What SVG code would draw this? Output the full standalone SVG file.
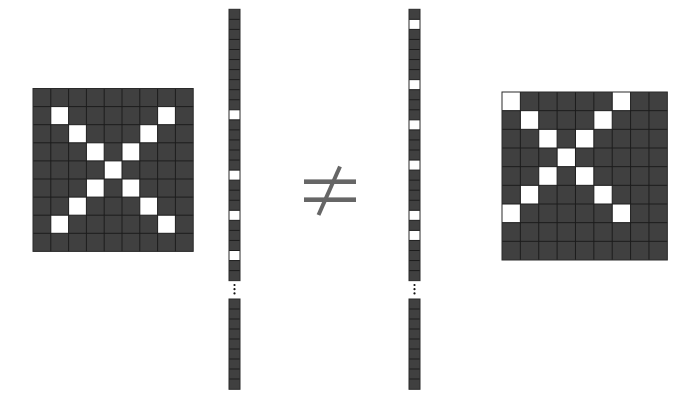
<svg xmlns="http://www.w3.org/2000/svg" width="700" height="400" viewBox="0 0 700 400">
<style>
.bg{fill:#404040}
.w{fill:#ffffff}
.ln{fill:none;stroke:#1c1c1c;stroke-width:1}
.bd{fill:none;stroke:#2a2a2a;stroke-width:1}
.dot{fill:#111}
.ne{fill:#666}
</style>
<rect width="700" height="400" fill="#ffffff"/>
<g id="left-grid">
<rect class="bg" x="33" y="88.5" width="160.2" height="162.9"/>
<g class="w">
<rect x="50.8" y="106.6" width="17.8" height="18.1"/>
<rect x="157.6" y="106.6" width="17.8" height="18.1"/>
<rect x="68.6" y="124.7" width="17.8" height="18.1"/>
<rect x="139.8" y="124.7" width="17.8" height="18.1"/>
<rect x="86.4" y="142.8" width="17.8" height="18.1"/>
<rect x="122" y="142.8" width="17.8" height="18.1"/>
<rect x="104.2" y="160.9" width="17.8" height="18.1"/>
<rect x="86.4" y="179" width="17.8" height="18.1"/>
<rect x="122" y="179" width="17.8" height="18.1"/>
<rect x="68.6" y="197.1" width="17.8" height="18.1"/>
<rect x="139.8" y="197.1" width="17.8" height="18.1"/>
<rect x="50.8" y="215.2" width="17.8" height="18.1"/>
<rect x="157.6" y="215.2" width="17.8" height="18.1"/>
</g>
<path class="ln" d="M50.8 88.5V251.4M68.6 88.5V251.4M86.4 88.5V251.4M104.2 88.5V251.4M122 88.5V251.4M139.8 88.5V251.4M157.6 88.5V251.4M175.4 88.5V251.4M33 106.6H193.2M33 124.7H193.2M33 142.8H193.2M33 160.9H193.2M33 179H193.2M33 197.1H193.2M33 215.2H193.2M33 233.3H193.2"/>
<rect class="bd" x="33" y="88.5" width="160.2" height="162.9"/>
</g>
<g id="left-column">
<rect class="bg" x="229" y="9.3" width="11" height="271.35"/>
<g class="w">
<rect x="229" y="109.8" width="11" height="10.05"/>
<rect x="229" y="170.1" width="11" height="10.05"/>
<rect x="229" y="210.3" width="11" height="10.05"/>
<rect x="229" y="250.5" width="11" height="10.05"/>
</g>
<path class="ln" d="M229 19.35H240M229 29.4H240M229 39.45H240M229 49.5H240M229 59.55H240M229 69.6H240M229 79.65H240M229 89.7H240M229 99.75H240M229 109.8H240M229 119.85H240M229 129.9H240M229 139.95H240M229 150H240M229 160.05H240M229 170.1H240M229 180.15H240M229 190.2H240M229 200.25H240M229 210.3H240M229 220.35H240M229 230.4H240M229 240.45H240M229 250.5H240M229 260.55H240M229 270.6H240"/>
<rect class="bd" x="229" y="9.3" width="11" height="271.35"/>
<circle class="dot" cx="234.5" cy="285" r="1.1"/>
<circle class="dot" cx="234.5" cy="289.2" r="1.1"/>
<circle class="dot" cx="234.5" cy="293.4" r="1.1"/>
<rect class="bg" x="229" y="299" width="11" height="90.3"/>
<path class="ln" d="M229 309H240M229 319H240M229 329H240M229 339H240M229 349H240M229 359H240M229 369H240M229 379H240"/>
<rect class="bd" x="229" y="299" width="11" height="90.3"/>
</g>
<g id="not-equal">
<rect class="ne" x="304" y="179.4" width="52" height="4.6"/>
<rect class="ne" x="304" y="197.4" width="52" height="4.6"/>
<line x1="318.5" y1="215" x2="340" y2="166.5" stroke="#666" stroke-width="4"/>
</g>
<g id="right-column">
<rect class="bg" x="409" y="9.3" width="11" height="271.35"/>
<g class="w">
<rect x="409" y="19.35" width="11" height="10.05"/>
<rect x="409" y="79.65" width="11" height="10.05"/>
<rect x="409" y="119.85" width="11" height="10.05"/>
<rect x="409" y="160.05" width="11" height="10.05"/>
<rect x="409" y="210.3" width="11" height="10.05"/>
<rect x="409" y="230.4" width="11" height="10.05"/>
</g>
<path class="ln" d="M409 19.35H420M409 29.4H420M409 39.45H420M409 49.5H420M409 59.55H420M409 69.6H420M409 79.65H420M409 89.7H420M409 99.75H420M409 109.8H420M409 119.85H420M409 129.9H420M409 139.95H420M409 150H420M409 160.05H420M409 170.1H420M409 180.15H420M409 190.2H420M409 200.25H420M409 210.3H420M409 220.35H420M409 230.4H420M409 240.45H420M409 250.5H420M409 260.55H420M409 270.6H420"/>
<rect class="bd" x="409" y="9.3" width="11" height="271.35"/>
<circle class="dot" cx="414.5" cy="285" r="1.1"/>
<circle class="dot" cx="414.5" cy="289.2" r="1.1"/>
<circle class="dot" cx="414.5" cy="293.4" r="1.1"/>
<rect class="bg" x="409" y="299" width="11" height="90.3"/>
<path class="ln" d="M409 309H420M409 319H420M409 329H420M409 339H420M409 349H420M409 359H420M409 369H420M409 379H420"/>
<rect class="bd" x="409" y="299" width="11" height="90.3"/>
</g>
<g id="right-grid">
<rect class="bg" x="502" y="92" width="165.33" height="168"/>
<g class="w">
<rect x="502" y="92" width="18.37" height="18.67"/>
<rect x="612.22" y="92" width="18.37" height="18.67"/>
<rect x="520.37" y="110.67" width="18.37" height="18.67"/>
<rect x="593.85" y="110.67" width="18.37" height="18.67"/>
<rect x="538.74" y="129.33" width="18.37" height="18.67"/>
<rect x="575.48" y="129.33" width="18.37" height="18.67"/>
<rect x="557.11" y="148" width="18.37" height="18.67"/>
<rect x="538.74" y="166.67" width="18.37" height="18.67"/>
<rect x="575.48" y="166.67" width="18.37" height="18.67"/>
<rect x="520.37" y="185.33" width="18.37" height="18.67"/>
<rect x="593.85" y="185.33" width="18.37" height="18.67"/>
<rect x="502" y="204" width="18.37" height="18.67"/>
<rect x="612.22" y="204" width="18.37" height="18.67"/>
</g>
<path class="ln" d="M520.37 92V260M538.74 92V260M557.11 92V260M575.48 92V260M593.85 92V260M612.22 92V260M630.59 92V260M648.96 92V260M502 110.67H667.33M502 129.33H667.33M502 148H667.33M502 166.67H667.33M502 185.33H667.33M502 204H667.33M502 222.67H667.33M502 241.33H667.33"/>
<rect class="bd" x="502" y="92" width="165.33" height="168"/>
</g>
</svg>
